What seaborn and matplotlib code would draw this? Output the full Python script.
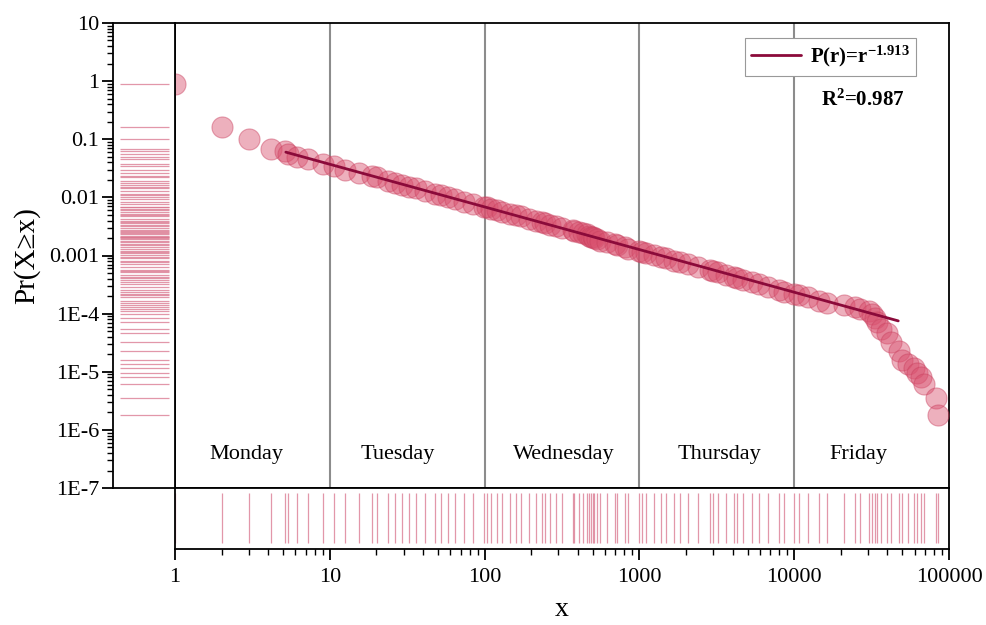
import numpy as np
import pandas as pd
import matplotlib
matplotlib.use("Agg")
import matplotlib.pyplot as plt
import matplotlib.ticker as mticker
import seaborn as sns

# ---------------- data ----------------
x_vals = [1, 2, 3, 4.2, 5.1, 5.4, 6.1, 7.2, 9, 10.7, 12.6, 15.5, 18.6, 20.1, 23.7, 26.3,
          29.1, 32.5, 35.8, 41, 47.8, 52.6, 58, 64, 74, 84, 99, 103, 110, 120, 130, 145,
          160, 172, 195, 215, 236, 245, 263, 290, 315, 370, 380, 410, 430, 460, 470, 490,
          500, 510, 535, 560, 620, 700, 720, 810, 845, 1000, 1040, 1100, 1250, 1370, 1480,
          1680, 1820, 2050, 2400, 2850, 3000, 3200, 3600, 4100, 4300, 4700, 5300, 5900,
          6800, 8000, 8600, 10000, 10800, 12200, 14400, 16300, 21000, 24700, 26700, 30200,
          32000, 33500, 34400, 36500, 39500, 42000, 47400, 49500, 54000, 59000, 62000,
          66000, 69000, 83000, 85000]
y_vals = [0.9, 0.165, 0.10, 0.068, 0.062, 0.056, 0.050, 0.045, 0.038, 0.034, 0.030, 0.026,
          0.023, 0.022, 0.0195, 0.018, 0.0166, 0.0153, 0.0143, 0.013, 0.0116, 0.0108, 0.0101,
          0.0094, 0.0084, 0.0077, 0.0069, 0.0067, 0.0064, 0.0060, 0.0057, 0.0052, 0.0049,
          0.0047, 0.0043, 0.0040, 0.0037, 0.0036, 0.0034, 0.0032, 0.0030, 0.0027, 0.0026,
          0.0025, 0.0024, 0.0023, 0.0022, 0.0021, 0.0021, 0.0020, 0.0019, 0.0018, 0.0017,
          0.0016, 0.0015, 0.0014, 0.0013, 0.0012, 0.00115, 0.0011, 0.00102, 0.00096, 0.0009,
          0.00082, 0.00077, 0.00071, 0.00064, 0.00057, 0.00055, 0.00052, 0.00047, 0.00043,
          0.00041, 0.00038, 0.00035, 0.00032, 0.00029, 0.00026, 0.00024, 0.00022, 0.00021,
          0.00019, 0.000168, 0.000152, 0.000138, 0.000128, 0.000122, 0.000112, 0.000100,
          0.000085, 0.000071, 0.000055, 0.000046, 0.000032, 0.000023, 0.000016, 0.0000135,
          0.0000115, 0.0000095, 0.000008, 0.0000062, 0.0000036, 0.0000018]

fit_x = [5.2, 47000]
fit_y = [0.06, 7.5e-5]
fit_label = r"P(r)=r$^{\mathbf{-1.913}}$"
r2_text = r"R$^{\mathbf{2}}$=0.987"

days = ["Monday", "Tuesday", "Wednesday", "Thursday", "Friday"]
day_x = [2.9, 27.6, 326, 3270, 25800]
day_bounds = [10, 100, 1000, 10000]

xticks = [1, 10, 100, 1000, 10000, 100000]
xtick_labels = ["1", "10", "100", "1000", "10000", "100000"]
yticks = [10, 1, 0.1, 0.01, 0.001, 1e-4, 1e-5, 1e-6, 1e-7]
ytick_labels = ["10", "1", "0.1", "0.01", "0.001", "1E-4", "1E-5", "1E-6", "1E-7"]

df = pd.DataFrame({"x": x_vals, "y": y_vals})
fit_df = pd.DataFrame({"x": fit_x, "y": fit_y})

# ---------------- style ----------------
sns.set_style("white")
plt.rcParams["font.family"] = ["Liberation Serif", "DejaVu Serif"]
plt.rcParams["mathtext.fontset"] = "custom"
plt.rcParams["mathtext.rm"] = "Liberation Serif"
plt.rcParams["mathtext.it"] = "Liberation Serif:italic"
plt.rcParams["mathtext.bf"] = "Liberation Serif:bold"
for k in ("text.color", "axes.labelcolor", "xtick.color", "ytick.color"):
    plt.rcParams[k] = "black"

W, H = 986, 625
fig = plt.figure(figsize=(W / 100, H / 100), dpi=100)

def rect(x0, y0, x1, y1):
    return [x0 / W, 1 - y1 / H, (x1 - x0) / W, (y1 - y0) / H]

ax = fig.add_axes(rect(175, 23, 949, 488))
axl = fig.add_axes(rect(113, 23, 175, 488))
axb = fig.add_axes(rect(175, 488, 949, 549))

spine_lw = 1.3
for a in (ax, axl, axb):
    for s in a.spines.values():
        s.set_color("black")
        s.set_linewidth(spine_lw)
        s.set_visible(True)

pink = "#D9506E"
rug_color = "#D9748C"

# main panel
ax.set_xscale("log")
ax.set_yscale("log")
ax.set_xlim(1, 1e5)
ax.set_ylim(1e-7, 10)
for b in day_bounds:
    ax.axvline(b, color="#8c8c8c", lw=1.5, zorder=1)

sns.scatterplot(data=df, x="x", y="y", ax=ax, s=230, color=pink, alpha=0.45,
                edgecolor="#C8405E", linewidth=0.8, zorder=3, legend=False)
sns.lineplot(data=fit_df, x="x", y="y", ax=ax, color="#8B0A3A", lw=2.0, zorder=4,
             label=fit_label)
ax.set_xlabel("")
ax.set_ylabel("")
ax.tick_params(axis="both", which="both", length=0, labelbottom=False, labelleft=False)
ax.xaxis.set_minor_locator(mticker.NullLocator())
ax.yaxis.set_minor_locator(mticker.NullLocator())

leg = ax.legend(loc="upper right", bbox_to_anchor=(0.957, 0.968), borderaxespad=0,
                frameon=True, fancybox=False, framealpha=1, edgecolor="#999999",
                prop={"weight": "bold", "size": 15}, handlelength=2.4,
                borderpad=0.3, handletextpad=0.4)
leg.get_frame().set_linewidth(0.8)

ax.text(0.888, 0.834, r2_text, transform=ax.transAxes, ha="center", va="center",
        fontsize=15, fontweight="bold")

trans = ax.get_xaxis_transform()
for d, xd in zip(days, day_x):
    ax.text(xd, 0.072, d, transform=trans, ha="center", va="center", fontsize=16)

# left rug panel
axl.set_yscale("log")
axl.set_ylim(1e-7, 10)
axl.set_xlim(0, 1)
axl.hlines(y_vals, 0.11, 0.9, color=rug_color, lw=0.9, alpha=0.75)
axl.set_yticks(yticks)
axl.set_yticklabels(ytick_labels)
axl.yaxis.set_minor_locator(mticker.LogLocator(base=10, subs=np.arange(2, 10), numticks=20))
axl.yaxis.set_minor_formatter(mticker.NullFormatter())
axl.tick_params(axis="y", which="major", direction="out", length=8, width=1.3,
                labelsize=16, pad=2, left=True)
axl.tick_params(axis="y", which="minor", direction="out", length=4, width=1.0, left=True)
axl.tick_params(axis="x", which="both", length=0, labelbottom=False)
axl.set_ylabel("Pr(X≥x)", fontsize=21, labelpad=6)

# bottom rug panel
axb.set_xscale("log")
axb.set_xlim(1, 1e5)
axb.set_ylim(0, 1)
axb.vlines(x_vals, 0.1, 0.92, color=rug_color, lw=0.9, alpha=0.75)
axb.set_xticks(xticks)
axb.set_xticklabels(xtick_labels)
axb.xaxis.set_minor_locator(mticker.LogLocator(base=10, subs=np.arange(2, 10), numticks=20))
axb.xaxis.set_minor_formatter(mticker.NullFormatter())
axb.tick_params(axis="x", which="major", direction="out", length=8, width=1.3,
                labelsize=16, pad=6, bottom=True)
axb.tick_params(axis="x", which="minor", direction="out", length=4, width=1.0, bottom=True)
axb.tick_params(axis="y", which="both", length=0, labelleft=False)
axb.set_xlabel("x", fontsize=20, labelpad=7)

fig.savefig("out.png", dpi=100, facecolor="white")
